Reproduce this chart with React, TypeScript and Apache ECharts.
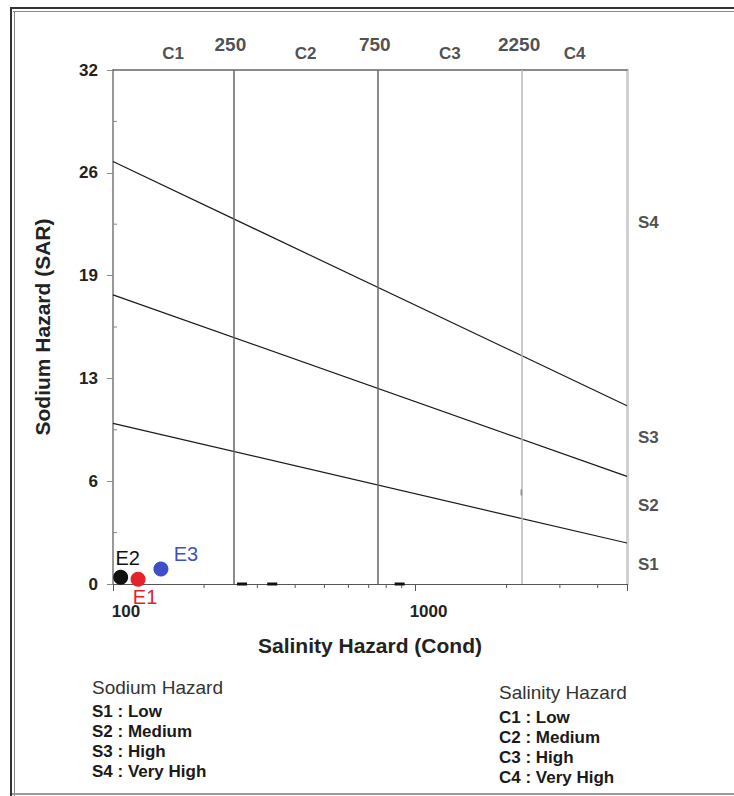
import React, { useEffect, useRef } from "react";
import * as echarts from "echarts";

// ---- data ----
const COND_MIN = 100;
const COND_MAX = 5000;
const SAR_MIN = 0;
const SAR_MAX = 32;
const SAR_INTERVAL = 6.4;
const X_LABELS = [100, 1000];
const X_MINOR = [200, 300, 400, 500, 600, 700, 800, 900, 2000, 3000, 4000];
const Y_MINOR = [3.2, 9.6, 16, 22.4, 28.8];
const LINE_COND = [100, 5000];
const S1_S2 = [10.0, 2.55];
const S2_S3 = [18.0, 6.7];
const S3_S4 = [26.3, 11.1];
const C_BOUNDS = [250, 750, 2250];
const C_NAMES = ["C1", "C2", "C3", "C4"];
const C_POS = [158, 433, 1299, 3354];
const S_NAMES = ["S4", "S3", "S2", "S1"];
const S_POS = [22.5, 9.1, 4.9, 1.2];
const SAMPLE_NAMES = ["E1", "E2", "E3"];
const SAMPLE_COND = [121, 106, 144];
const SAMPLE_SAR = [0.3, 0.42, 0.94];
const MARK_COND = [267, 336, 886];
const MARK_SAR = [0, 0, 0];
const TICK_MARK_COND = [2240];
const TICK_MARK_SAR = [5.7];
const SODIUM_TITLE = "Sodium Hazard";
const SODIUM_LEGEND = ["S1 : Low", "S2 : Medium", "S3 : High", "S4 : Very High"];
const SALINITY_TITLE = "Salinity Hazard";
const SALINITY_LEGEND = ["C1 : Low", "C2 : Medium", "C3 : High", "C4 : Very High"];

const FONT = "'Liberation Sans', Arial, sans-serif";

const SAMPLE_STYLE: Record<string, any> = {
  E1: { color: "#e5212b", offset: [7, 18] },
  E2: { color: "#111111", offset: [7, -19] },
  E3: { color: "#3f4fc8", offset: [25, -15] },
};

export default function App() {
  const ref = useRef<HTMLDivElement>(null);

  useEffect(() => {
    if (!ref.current) return;
    const chart = echarts.init(ref.current, null, { renderer: "svg" });

    const boundaryLine = (vals: number[], withMarks: boolean) => ({
      type: "line",
      data: LINE_COND.map((c, i) => [c, vals[i]]),
      symbol: "none",
      lineStyle: { color: "#1a1a1a", width: 1.2 },
      silent: true,
      z: 3,
      markLine: withMarks
        ? {
            silent: true,
            symbol: ["none", "none"],
            label: { show: false },
            data: C_BOUNDS.map((b, i) => ({
              xAxis: b,
              lineStyle: {
                color: i === 2 ? "#b8b8b8" : "#666666",
                width: 1.5,
                type: "solid",
              },
            })),
          }
        : undefined,
    });

    const option: any = {
      animation: false,
      backgroundColor: "#ffffff",
      grid: { left: 113, right: 107, top: 70, bottom: 212, containLabel: false },
      xAxis: [
        {
          type: "log",
          logBase: 10,
          min: COND_MIN,
          max: COND_MAX,
          name: "Salinity Hazard (Cond)",
          nameLocation: "middle",
          nameGap: 51,
          nameTextStyle: { fontFamily: FONT, fontWeight: "bold", fontSize: 21, color: "#222" },
          axisLine: { show: true, onZero: false, lineStyle: { color: "#555", width: 1.2 } },
          axisTick: { show: true, length: 7, lineStyle: { color: "#555" } },
          axisLabel: {
            fontFamily: FONT,
            fontWeight: "bold",
            fontSize: 17,
            color: "#222",
            margin: 19,
            padding: [0, 0, 0, 26],
            formatter: (v: number) =>
              X_LABELS.some((l) => Math.abs(l - v) < 1e-6) ? String(Math.round(v)) : "",
          },
          splitLine: { show: false },
          minorTick: { show: false },
        },
        {
          type: "log",
          logBase: 10,
          min: COND_MIN,
          max: COND_MAX,
          position: "top",
          axisLine: { show: true, onZero: false, lineStyle: { color: "#666", width: 1.5 } },
          axisTick: { show: false },
          axisLabel: { show: false },
          splitLine: { show: false },
        },
      ],
      yAxis: [
        {
          type: "value",
          min: SAR_MIN,
          max: SAR_MAX,
          interval: SAR_INTERVAL,
          name: "Sodium Hazard (SAR)",
          nameLocation: "middle",
          nameGap: 60,
          nameRotate: 90,
          nameTextStyle: { fontFamily: FONT, fontWeight: "bold", fontSize: 21, color: "#222" },
          axisLine: { show: true, onZero: false, lineStyle: { color: "#999", width: 2 } },
          axisTick: { show: true, length: 6, lineStyle: { color: "#888" } },
          axisLabel: {
            fontFamily: FONT,
            fontWeight: "bold",
            fontSize: 17,
            color: "#222",
            margin: 15,
            formatter: (v: number) => String(Math.round(v)),
          },
          splitLine: { show: false },
        },
        {
          type: "value",
          min: SAR_MIN,
          max: SAR_MAX,
          position: "right",
          axisLine: { show: true, onZero: false, lineStyle: { color: "#d0d0d0", width: 3 } },
          axisTick: { show: false },
          axisLabel: { show: false },
          splitLine: { show: false },
        },
      ],
      series: [
        boundaryLine(S1_S2, true),
        boundaryLine(S2_S3, false),
        boundaryLine(S3_S4, false),
        {
          type: "custom",
          clip: false,
          silent: true,
          data: X_MINOR.map((v) => [v, SAR_MIN]),
          renderItem: (params: any, api: any) => {
            const p = api.coord([api.value(0), api.value(1)]);
            return {
              type: "line",
              shape: { x1: p[0], y1: p[1], x2: p[0], y2: p[1] + 4 },
              style: { stroke: "#555", lineWidth: 1 },
            };
          },
          z: 2,
        },
        {
          type: "custom",
          clip: false,
          silent: true,
          data: Y_MINOR.map((v) => [COND_MIN, v]),
          renderItem: (params: any, api: any) => {
            const p = api.coord([api.value(0), api.value(1)]);
            return {
              type: "line",
              shape: { x1: p[0], y1: p[1], x2: p[0] + 4, y2: p[1] },
              style: { stroke: "#888", lineWidth: 1 },
            };
          },
          z: 2,
        },
        {
          type: "scatter",
          silent: true,
          symbol: "rect",
          symbolSize: [10, 3],
          itemStyle: { color: "#111", opacity: 1 },
          data: MARK_COND.map((c, i) => [c, MARK_SAR[i]]),
          z: 4,
        },
        {
          type: "scatter",
          silent: true,
          symbol: "rect",
          symbolSize: [1.5, 6],
          itemStyle: { color: "#222", opacity: 1 },
          data: TICK_MARK_COND.map((c, i) => [c, TICK_MARK_SAR[i]]),
          z: 4,
        },
        {
          type: "scatter",
          silent: true,
          symbolSize: 0,
          data: C_NAMES.map((n, i) => ({ value: [C_POS[i], SAR_MAX], name: n })),
          label: {
            show: true,
            position: "top",
            distance: 8,
            formatter: "{b}",
            fontFamily: FONT,
            fontWeight: "bold",
            fontSize: 17,
            color: "#222",
          },
        },
        {
          type: "scatter",
          silent: true,
          symbolSize: 0,
          data: C_BOUNDS.map((b) => ({ value: [b, SAR_MAX], name: String(b) })),
          label: {
            show: true,
            position: "top",
            distance: 16,
            offset: [-3, 0],
            formatter: "{b}",
            fontFamily: FONT,
            fontWeight: "bold",
            fontSize: 19,
            color: "#222",
          },
        },
        {
          type: "scatter",
          silent: true,
          symbolSize: 0,
          data: S_NAMES.map((n, i) => ({ value: [COND_MAX, S_POS[i]], name: n })),
          label: {
            show: true,
            position: "right",
            distance: 11,
            formatter: "{b}",
            fontFamily: FONT,
            fontWeight: "bold",
            fontSize: 17,
            color: "#222",
          },
        },
        {
          type: "scatter",
          symbolSize: 15,
          z: 6,
          data: SAMPLE_NAMES.map((n, i) => ({
            value: [SAMPLE_COND[i], SAMPLE_SAR[i]],
            name: n,
            itemStyle: { color: SAMPLE_STYLE[n].color, opacity: 1 },
            label: {
              show: true,
              position: "inside",
              offset: SAMPLE_STYLE[n].offset,
              formatter: "{b}",
              fontFamily: FONT,
              fontSize: 20,
              color: SAMPLE_STYLE[n].color,
            },
          })),
        },
      ],
      graphic: [
        // frame
        { type: "line", shape: { x1: 10, y1: 8, x2: 734, y2: 8 }, style: { stroke: "#333", lineWidth: 2 } },
        { type: "line", shape: { x1: 13, y1: 11.5, x2: 734, y2: 11.5 }, style: { stroke: "#888", lineWidth: 1 } },
        { type: "line", shape: { x1: 11, y1: 7, x2: 11, y2: 796 }, style: { stroke: "#333", lineWidth: 2 } },
        { type: "line", shape: { x1: 14.5, y1: 11, x2: 14.5, y2: 796 }, style: { stroke: "#888", lineWidth: 1 } },
        { type: "line", shape: { x1: 12, y1: 794, x2: 734, y2: 794 }, style: { stroke: "#999", lineWidth: 2 } },
        // legends
        {
          type: "text",
          x: 92,
          y: 687,
          style: { text: SODIUM_TITLE, font: `19px ${FONT}`, fill: "#333", verticalAlign: "middle" },
        },
        ...SODIUM_LEGEND.map((t, i) => ({
          type: "text",
          x: 92,
          y: 711 + i * 20,
          style: { text: t, font: `bold 17px ${FONT}`, fill: "#1a1a1a", verticalAlign: "middle" },
        })),
        {
          type: "text",
          x: 499,
          y: 692,
          style: { text: SALINITY_TITLE, font: `19px ${FONT}`, fill: "#333", verticalAlign: "middle" },
        },
        ...SALINITY_LEGEND.map((t, i) => ({
          type: "text",
          x: 499,
          y: 717 + i * 20,
          style: { text: t, font: `bold 17px ${FONT}`, fill: "#1a1a1a", verticalAlign: "middle" },
        })),
      ],
    };

    chart.setOption(option);
    return () => chart.dispose();
  }, []);

  return (
    <div
      ref={ref}
      style={{ position: "fixed", left: 0, top: 0, width: 734, height: 796, background: "#fff" }}
    />
  );
}
